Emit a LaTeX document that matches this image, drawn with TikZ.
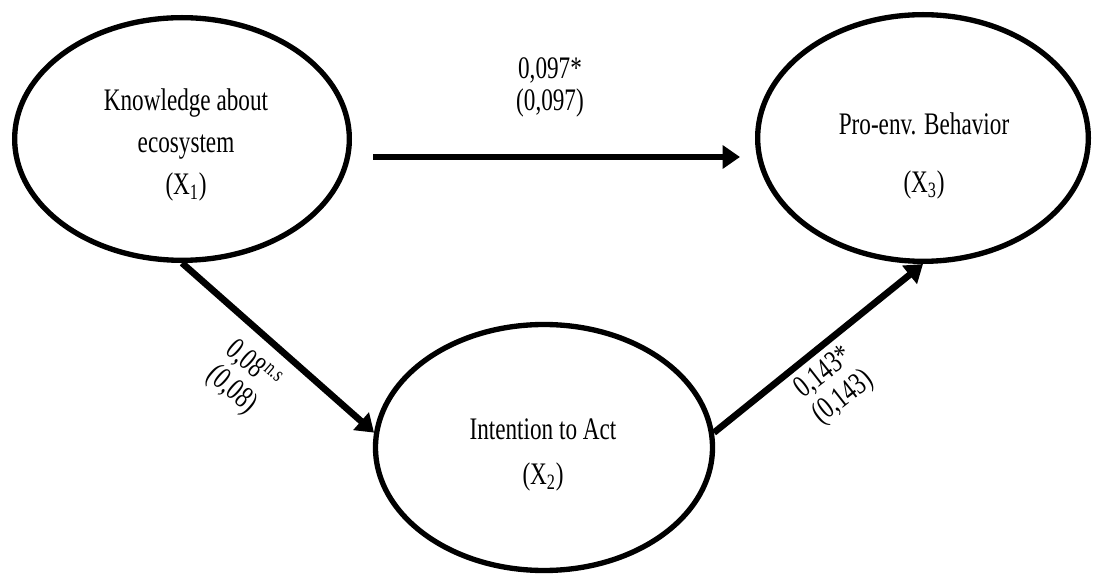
\documentclass[tikz,border=0pt]{standalone}
\usepackage{fontspec}
\setmainfont{Liberation Serif}[FakeStretch=0.74]
\usetikzlibrary{shapes.geometric,arrows.meta,calc}

\begin{document}
\begin{tikzpicture}[x=0.75pt,y=0.75pt,yscale=-1,xscale=1,
  latent/.style={ellipse, draw, line width=4pt, inner sep=0pt},
  path/.style={line width=5pt, -{Triangle[length=13pt,width=17pt]}},
  txt/.style={inner sep=0.75pt, align=center, font=\fontsize{23.5}{31.5}\selectfont},
  coef/.style={inner sep=0.75pt, align=center, font=\fontsize{23.5}{23.5}\selectfont}]
\useasboundingbox (0,0) rectangle (1093,577);

%Shapes [latent variables]
\node [latent, minimum width=251pt, minimum height=182pt] (know) at (182,139) {};
\node [latent, minimum width=252.75pt, minimum height=184.5pt] (intent) at (544,447.5) {};
\node [latent, minimum width=248pt, minimum height=185pt] (behav) at (923,138) {};

% Text Node
\node [txt] (knowtxt) at (186,144.5) {Knowledge about\\ecosystem\\(X\textsubscript{1})};
% Text Node
\node [txt] (intenttxt) at (543,454.5) {Intention to Act\\[2.25pt](X\textsubscript{2})};
% Text Node
\node [txt] (behavtxt) at (924,156) {Pro-env. Behavior\\[12pt](X\textsubscript{3})};

%Straight Lines [X1 -> X3]
\draw [path] ($(know.east)+(21,18)$) -- ($(behav.west)+(-15,19)$);
%Straight Lines [X1 -> X2]
\draw [path] (know.south) -- (intent.175);
%Straight Lines [X2 -> X3]
\draw [path] (intent.5) -- (behav.south);

% Text Node
\node [coef] (c13) at (550,87.5) {0,097*\\(0,097)};
% Text Node
\node [coef, rotate=-41] (c12) at (242,378) {0,08\textsuperscript{n.s}\\(0,08)};
% Text Node
\node [coef, rotate=38] (c23) at (834,386) {0,143*\\(0,143)};

\end{tikzpicture}
\end{document}
